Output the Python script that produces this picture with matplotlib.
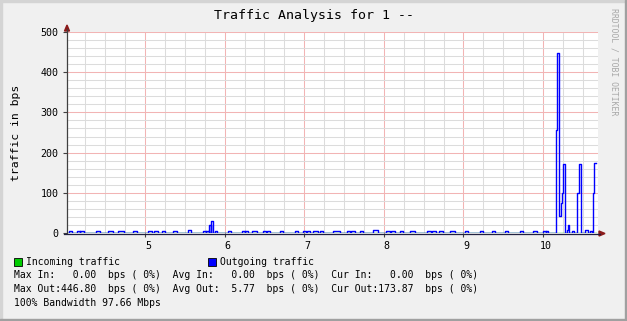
import matplotlib
matplotlib.use('Agg')
import matplotlib.pyplot as plt
import matplotlib.transforms as mtransforms
from matplotlib.patches import Rectangle, Polygon
from matplotlib.lines import Line2D
from matplotlib.ticker import MultipleLocator

plt.rcParams['font.family'] = ['DejaVu Sans Mono', 'DejaVu Sans']

# small bumps on the outgoing line (start, end, height in bps)
bump_start = [4.045, 4.146, 4.183, 4.384, 4.535, 4.661, 4.849, 5.038, 5.113, 5.213,
              5.352, 5.540, 5.729, 5.766, 5.804, 5.829, 5.879, 6.043, 6.218, 6.256,
              6.344, 6.482, 6.533, 6.696, 6.884, 6.985, 7.035, 7.110, 7.198, 7.362,
              7.538, 7.588, 7.701, 7.864, 8.028, 8.090, 8.203, 8.329, 8.543, 8.605,
              8.693, 8.832, 9.020, 9.208, 9.359, 9.523, 9.711, 9.874, 10.000, 10.038]
bump_end = [4.083, 4.183, 4.234, 4.435, 4.598, 4.736, 4.899, 5.088, 5.163, 5.251,
            5.402, 5.578, 5.766, 5.804, 5.829, 5.854, 5.904, 6.080, 6.256, 6.294,
            6.407, 6.520, 6.570, 6.734, 6.922, 7.023, 7.073, 7.173, 7.236, 7.450,
            7.575, 7.638, 7.739, 7.927, 8.078, 8.141, 8.241, 8.392, 8.593, 8.656,
            8.744, 8.894, 9.058, 9.246, 9.397, 9.560, 9.749, 9.925, 10.038, 10.063]
bump_height = [4, 4, 4, 4, 4, 4, 4, 4, 4, 4,
               4, 7, 4, 5, 20, 30, 4, 6, 4, 4,
               4, 4, 4, 6, 4, 4, 4, 4, 6, 4,
               4, 4, 4, 7, 4, 4, 4, 4, 4, 4,
               4, 4, 6, 4, 4, 6, 4, 4, 4, 4]

# the burst at the end
burst_t = [10.163, 10.180, 10.205, 10.222, 10.235, 10.255, 10.276, 10.301, 10.314,
           10.327, 10.364, 10.389, 10.431, 10.448, 10.473, 10.528, 10.565, 10.590,
           10.615, 10.632, 10.644, 10.666]
burst_v = [257, 446.8, 42, 75, 100, 172, 0, 8, 20,
           0, 4, 0, 100, 172, 0, 7, 0, 4,
           0, 100, 173.87, 173.87]

x_ticks = [5, 6, 7, 8, 9, 10]
y_ticks = [0, 100, 200, 300, 400, 500]

legend_lines = [
    "Max In:   0.00  bps ( 0%)  Avg In:   0.00  bps ( 0%)  Cur In:   0.00  bps ( 0%)",
    "Max Out:446.80  bps ( 0%)  Avg Out:  5.77  bps ( 0%)  Cur Out:173.87  bps ( 0%)",
    "100% Bandwidth 97.66 Mbps",
]

t = [4.0]
v = [0]
for s, e, h in zip(bump_start, bump_end, bump_height):
    t += [s, e]
    v += [h, 0]
t += burst_t
v += burst_v

W, H = 627, 321


def fx(px):
    return px / W


def fy(py):
    return 1 - py / H


fig = plt.figure(figsize=(W / 100, H / 100), dpi=100, facecolor='#F0F0F0')
ax = fig.add_axes([fx(67), fy(233), fx(598) - fx(67), fy(32) - fy(233)])
ax.set_facecolor('white')

ax.set_xlim(4.02, 10.69)
ax.set_ylim(0, 500)
ax.xaxis.set_minor_locator(MultipleLocator(0.25))
ax.yaxis.set_minor_locator(MultipleLocator(20))
ax.set_xticks(x_ticks)
ax.set_yticks(y_ticks)
ax.grid(which='minor', color='#DCDCDC', lw=0.75)
ax.grid(which='major', color='#F2B4B4', lw=0.75)
ax.set_axisbelow(True)
for s in ax.spines.values():
    s.set_visible(False)
ax.tick_params(which='major', length=3, width=0.8, color='#404040', labelsize=7.2, pad=3)
ax.tick_params(which='minor', length=0)
shift = mtransforms.ScaledTranslation(3 / 100, 0, fig.dpi_scale_trans)
for lab in ax.get_xticklabels():
    lab.set_transform(lab.get_transform() + shift)

ax.plot([4.0, 10.666], [0, 0], color='#00CC00', lw=1.0, zorder=3)
ax.step(t, v, where='post', color='#0000FF', lw=1.0, zorder=4)

# axis lines and arrows
fig.add_artist(Line2D([fx(67), fx(67)], [fy(233), fy(29)], color='#404040', lw=0.9))
fig.add_artist(Line2D([fx(64), fx(600)], [fy(233.5), fy(233.5)], color='#202040', lw=0.9))
fig.add_artist(Polygon([[fx(67), fy(25)], [fx(64.5), fy(31)], [fx(69.5), fy(31)]],
                       closed=True, color='#8B1A1A', transform=fig.transFigure))
fig.add_artist(Polygon([[fx(605), fy(233.5)], [fx(599), fy(231)], [fx(599), fy(236)]],
                       closed=True, color='#8B1A1A', transform=fig.transFigure))

fig.text(fx(314), fy(16), 'Traffic Analysis for 1 --', ha='center', va='center', fontsize=9.5)
fig.text(fx(16), fy(133), 'traffic in bps', ha='center', va='center', rotation=90, fontsize=8.2)
fig.text(fx(614), fy(62), 'RRDTOOL / TOBI OETIKER', ha='center', va='center',
         rotation=270, fontsize=5.9, color='#A8A8A8')

# legend
fig.add_artist(Rectangle((fx(14), fy(266)), fx(8), fy(258) - fy(266), facecolor='#00CC00',
                         edgecolor='black', lw=0.6, transform=fig.transFigure))
fig.add_artist(Rectangle((fx(208), fy(266)), fx(8), fy(258) - fy(266), facecolor='#0000FF',
                         edgecolor='black', lw=0.6, transform=fig.transFigure))
fig.text(fx(26), fy(262), 'Incoming traffic', va='center', fontsize=7)
fig.text(fx(220), fy(262), 'Outgoing traffic', va='center', fontsize=7)
for i, line in enumerate(legend_lines):
    fig.text(fx(14), fy(275 + 14 * i), line, va='center', fontsize=7)

# frame
fig.add_artist(Rectangle((0, fy(2)), 1, fy(0) - fy(2), color='#D4D4D4', transform=fig.transFigure))
fig.add_artist(Rectangle((0, 0), fx(2), 1, color='#D4D4D4', transform=fig.transFigure))
fig.add_artist(Rectangle((0, 0), 1, fy(319), color='#A0A0A0', transform=fig.transFigure))
fig.add_artist(Rectangle((fx(625), 0), fx(2), 1, color='#A0A0A0', transform=fig.transFigure))

fig.savefig('out.png', dpi=100, facecolor=fig.get_facecolor())
